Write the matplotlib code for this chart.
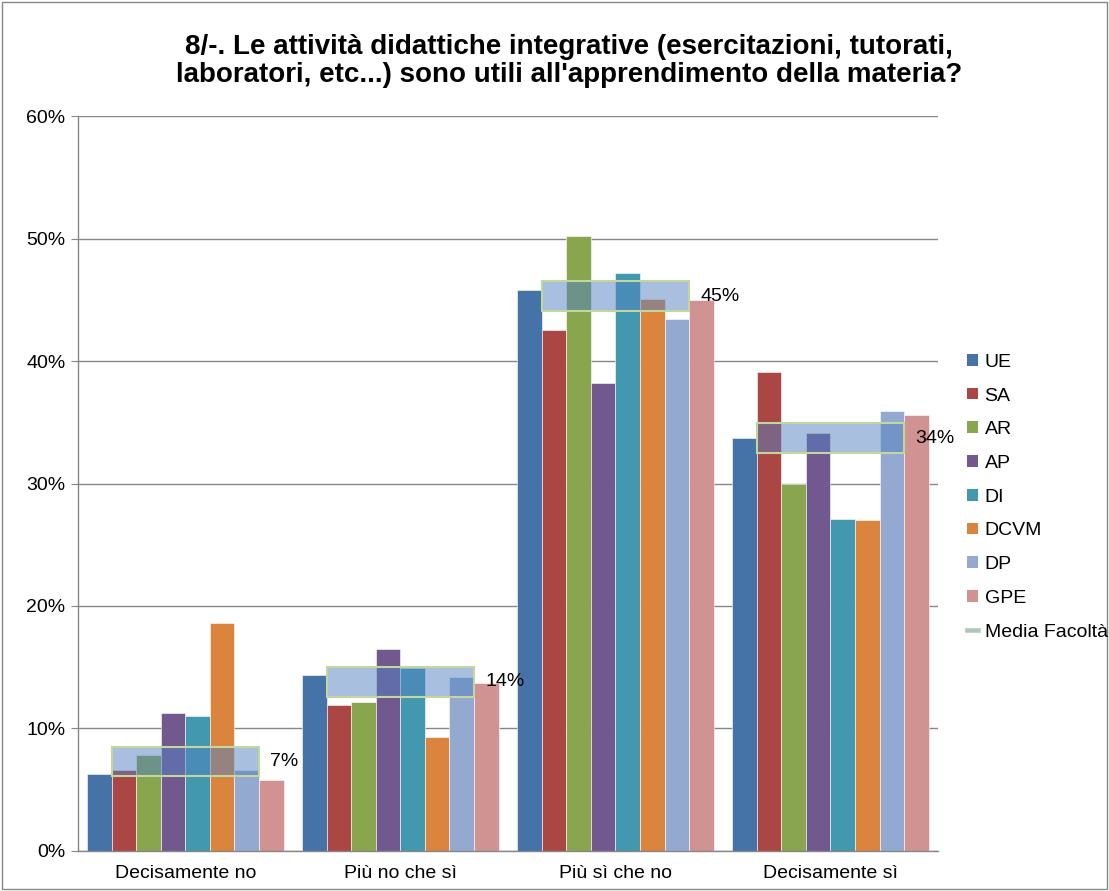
import numpy as np
import matplotlib.pyplot as plt
from matplotlib.lines import Line2D
from matplotlib.patches import Patch, Rectangle
import matplotlib.patheffects as pe

plt.rcParams['font.family'] = ['Liberation Sans', 'DejaVu Sans']

categories = ['Decisamente no', 'Più no che sì', 'Più sì che no', 'Decisamente sì']
series_names = ['UE', 'SA', 'AR', 'AP', 'DI', 'DCVM', 'DP', 'GPE']
values = {
    'UE':   [6.3, 14.4, 45.8, 33.7],
    'SA':   [6.6, 11.9, 42.5, 39.1],
    'AR':   [7.8, 12.2, 50.2, 30.0],
    'AP':   [11.3, 16.5, 38.2, 34.1],
    'DI':   [11.0, 14.9, 47.2, 27.1],
    'DCVM': [18.6, 9.3, 45.1, 27.0],
    'DP':   [6.6, 14.2, 43.4, 35.9],
    'GPE':  [5.8, 13.7, 45.0, 35.6],
}
media = [7.3, 13.8, 45.3, 33.7]
media_labels = ['7%', '14%', '45%', '34%']
colors = ['#4572A7', '#AA4643', '#89A54E', '#71588F', '#4198AF', '#DB843D', '#93A9CF', '#D19392']

fig = plt.figure(figsize=(11.09, 8.91), dpi=100)
ax = fig.add_axes([0.0703, 0.0449, 0.7755, 0.8249])

x = np.arange(len(categories))
bw = 0.114
for i, name in enumerate(series_names):
    ax.bar(x + (i - 3.5) * bw, values[name], width=bw, color=colors[i],
           edgecolor='white', linewidth=0.4, zorder=2)

# media facoltà boxes (semi-transparent band over the bars)
box_h = 2.4
ax.bar(x, [box_h] * len(x), bottom=np.array(media) - box_h / 2, width=6 * bw,
       color=(0.325, 0.506, 0.757, 0.5), edgecolor='#C3D69B', linewidth=1.5, zorder=3)
for xi, m, lab in zip(x, media, media_labels):
    ax.annotate(lab, (xi + 3 * bw, m), xytext=(8, 0), textcoords='offset points',
                va='center', ha='left', fontsize=14, zorder=4)

ax.set_xlim(-0.5, 3.5)
ax.set_ylim(0, 60)
ax.set_yticks(range(0, 61, 10))
ax.set_yticklabels([f'{v}%' for v in range(0, 61, 10)], fontsize=14)
ax.set_xticks(x)
ax.set_xticklabels(categories, fontsize=14)
ax.tick_params(axis='x', length=0, pad=10)
ax.tick_params(axis='y', length=5, color='#868686', pad=4)
ax.grid(axis='y', color='#868686', linewidth=1, zorder=0)
ax.set_axisbelow(True)
for s in ['top', 'right']:
    ax.spines[s].set_visible(False)
for s in ['left', 'bottom']:
    ax.spines[s].set_color('#868686')
    ax.spines[s].set_linewidth(1)

handles = [Patch(facecolor=c, edgecolor='none') for c in colors]
handles.append(Line2D([0], [0], color='#A9C0E0', lw=2,
                      path_effects=[pe.Stroke(linewidth=3.5, foreground='#C3D69B'), pe.Normal()]))
leg = fig.legend(handles, series_names + ['Media Facoltà'], loc='center left',
                 bbox_to_anchor=(0.872, 0.442), frameon=False, fontsize=14,
                 borderpad=0, borderaxespad=0,
                 handlelength=0.55, handleheight=0.55, handletextpad=0.35, labelspacing=0.86)

fig.text(0.513, 0.931, "8/-. Le attività didattiche integrative (esercitazioni, tutorati,\n"
         "laboratori, etc...) sono utili all'apprendimento della materia?",
         ha='center', va='center', fontsize=20, fontweight='bold', linespacing=1.1)

fig.patches.append(Rectangle((0.002, 0.002), 0.996, 0.996, transform=fig.transFigure,
                             fill=False, edgecolor='#868686', linewidth=1))

fig.savefig('out.png', dpi=100)
